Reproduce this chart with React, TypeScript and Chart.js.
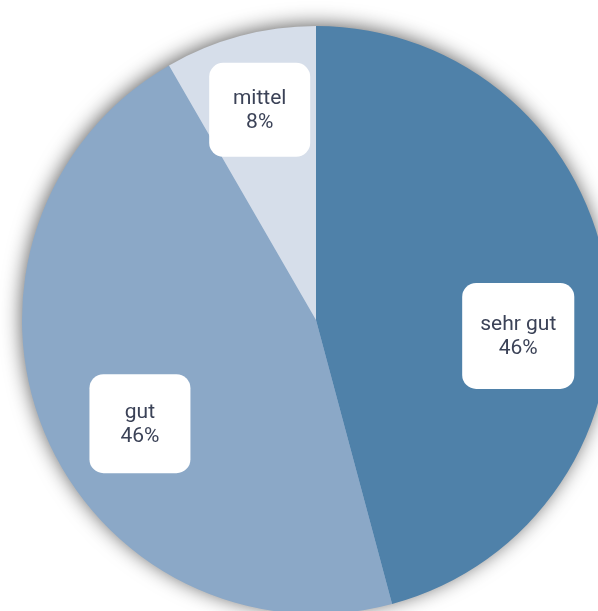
import React, { useEffect, useRef } from "react";
import { Chart, registerables } from "chart.js";

Chart.register(...registerables);

const categories = ["sehr gut", "gut", "mittel"];
const values = [11, 11, 2];
const colors = ["#4f81a9", "#8ba8c7", "#d6deea"];

const SIZE = 700;
const CENTER_X = 316;
const CENTER_Y = 320;

const labelBoxPlugin = {
  id: "labelBoxes",
  afterDatasetsDraw(chart: any, _args: any, opts: any) {
    const ctx = chart.ctx;
    const meta = chart.getDatasetMeta(0);
    const data = chart.data.datasets[0].data as number[];
    const total = data.reduce((a, b) => a + b, 0);
    ctx.save();
    ctx.font = "21px Roboto, 'Noto Sans', sans-serif";
    meta.data.forEach((arc: any, i: number) => {
      const p = arc.getProps(["x", "y", "startAngle", "endAngle", "outerRadius"], true);
      const mid = (p.startAngle + p.endAngle) / 2 + (opts.angleShift[i] * Math.PI) / 180;
      const r = p.outerRadius * opts.radial[i];
      const cx = p.x + Math.cos(mid) * r;
      const cy = p.y + Math.sin(mid) * r;
      const l1 = String(chart.data.labels[i]);
      const l2 = Math.round((data[i] / total) * 100) + "%";
      const tw = Math.max(ctx.measureText(l1).width, ctx.measureText(l2).width);
      const w = Math.max(tw + 36, 101);
      const h = opts.heights[i];
      ctx.fillStyle = "#ffffff";
      ctx.beginPath();
      (ctx as any).roundRect(cx - w / 2, cy - h / 2, w, h, 14);
      ctx.fill();
      ctx.fillStyle = "#3b4257";
      ctx.textAlign = "center";
      ctx.textBaseline = "middle";
      ctx.fillText(l1, cx, cy - 11);
      ctx.fillText(l2, cx, cy + 13);
    });
    ctx.restore();
  },
};

const shadowPlugin = {
  id: "pieShadow",
  beforeDatasetsDraw(chart: any) {
    const meta = chart.getDatasetMeta(0);
    const a = meta.data[0] as any;
    if (!a) return;
    const p = a.getProps(["x", "y", "outerRadius"], true);
    const ctx = chart.ctx;
    ctx.save();
    ctx.shadowColor = "rgba(0,0,0,0.65)";
    ctx.shadowBlur = 20;
    ctx.shadowOffsetX = -1;
    ctx.shadowOffsetY = -2;
    ctx.fillStyle = "#8ba8c7";
    ctx.beginPath();
    ctx.arc(p.x, p.y, p.outerRadius - 1, 0, Math.PI * 2);
    ctx.fill();
    ctx.restore();
  },
};

export default function App() {
  const ref = useRef<HTMLCanvasElement | null>(null);
  useEffect(() => {
    if (!ref.current) return;
    const chart = new Chart(ref.current, {
      type: "pie",
      data: {
        labels: categories,
        datasets: [
          {
            data: values,
            backgroundColor: colors,
            borderWidth: 0,
          },
        ],
      },
      options: {
        responsive: false,
        animation: false,
        radius: 294,
        layout: { padding: 0 },
        plugins: {
          legend: { display: false },
          tooltip: { enabled: false },
          labelBoxes: {
            angleShift: [12, -8, 0],
            radial: [0.69, 0.695, 0.74],
            heights: [106, 99, 94],
          },
        } as any,
      },
      plugins: [shadowPlugin, labelBoxPlugin],
    });
    return () => chart.destroy();
  }, []);
  return (
    <div
      style={{
        position: "fixed",
        left: 0,
        top: 0,
        width: 598,
        height: 611,
        overflow: "hidden",
        background: "#ffffff",
      }}
    >
      <canvas
        ref={ref}
        width={SIZE}
        height={SIZE}
        style={{
          position: "absolute",
          left: CENTER_X - SIZE / 2,
          top: CENTER_Y - SIZE / 2,
          width: SIZE,
          height: SIZE,
        }}
      />
    </div>
  );
}
